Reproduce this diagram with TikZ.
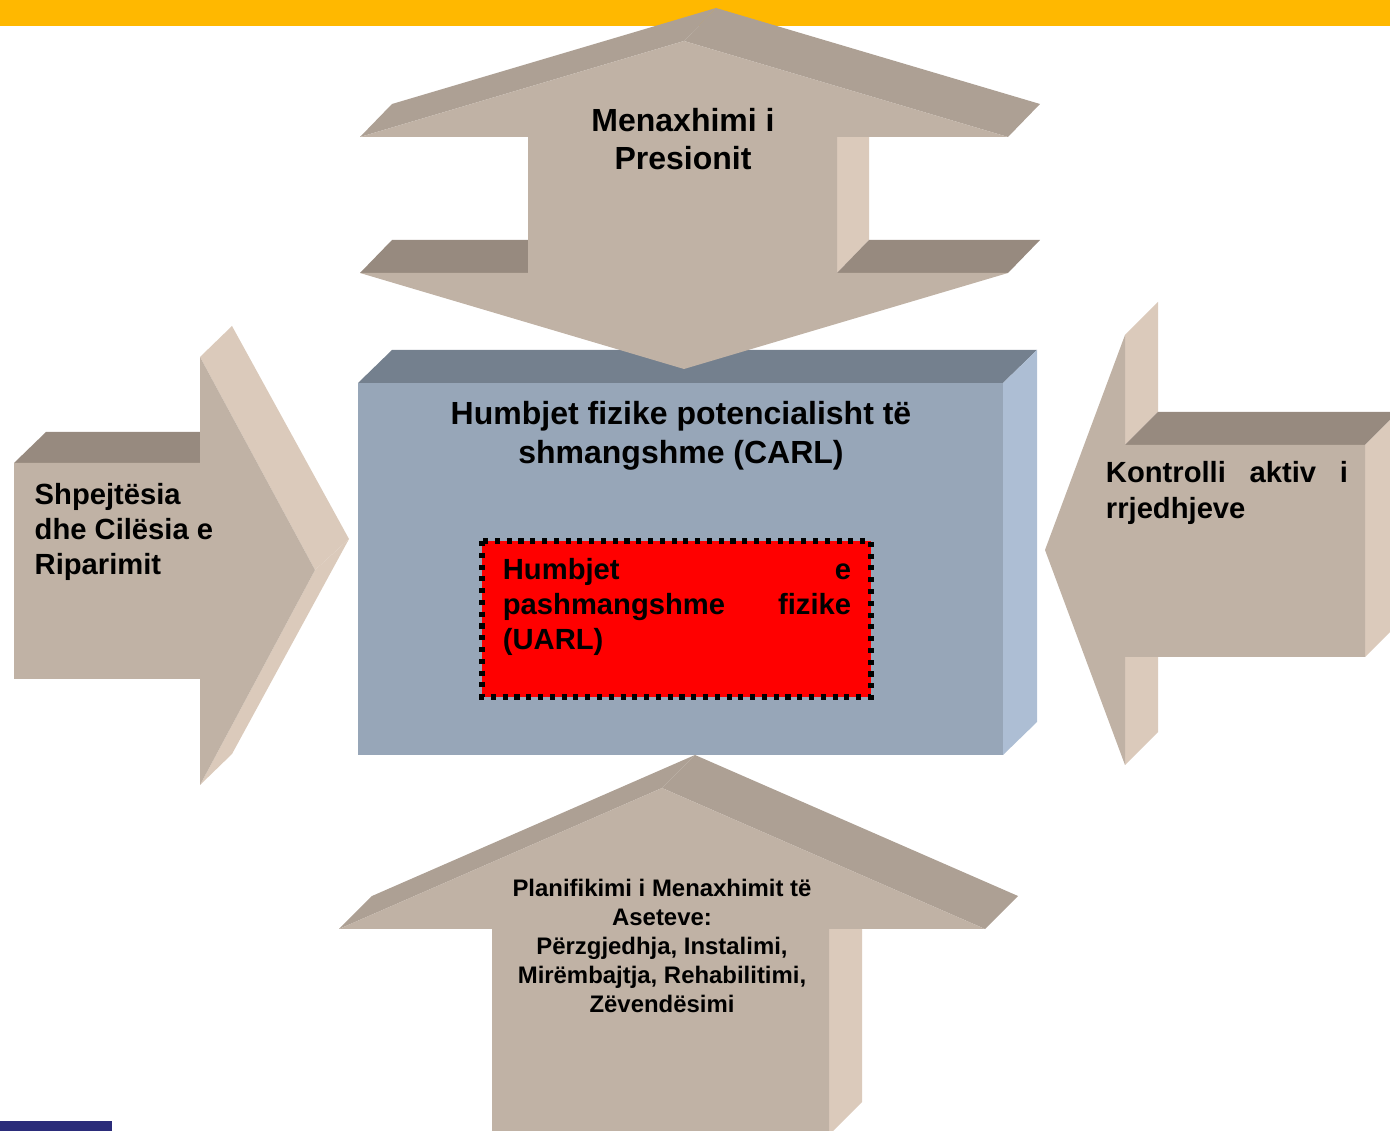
\documentclass[tikz,border=0pt]{standalone}
\usepackage{fontspec}
\setmainfont{Liberation Sans}
\usetikzlibrary{calc}

\definecolor{barorange}{RGB}{255,184,0}
\definecolor{navybar}{RGB}{43,44,122}
\definecolor{armfront}{RGB}{192,178,165}
\definecolor{armslope}{RGB}{173,160,148}
\definecolor{armledge}{RGB}{151,138,127}
\definecolor{armside}{RGB}{219,202,187}
\definecolor{boxtop}{RGB}{116,128,142}
\definecolor{boxside}{RGB}{173,190,212}
\definecolor{boxfront}{RGB}{151,166,184}

\begin{document}
\begin{tikzpicture}[x=0.01cm,y=-0.01cm,
        frontface/.style={fill=armfront},
        slopeface/.style={fill=armslope},
        ledgeface/.style={fill=armledge},
        sideface/.style={fill=armside},
        bigtxt/.style={inner sep=0pt, font=\bfseries\fontsize{9.1}{11}\selectfont},
        midtxt/.style={inner sep=0pt, font=\bfseries\fontsize{8.3}{10}\selectfont},
        smalltxt/.style={inner sep=0pt, font=\bfseries\fontsize{6.8}{8.25}\selectfont}]
    \useasboundingbox (0,0) rectangle (1390,1131);
    \clip (0,0) rectangle (1390,1131);
    \fill[barorange] (0,0) rectangle (1390,26);
    \fill[navybar] (0,1121) rectangle (112,1131);

    \coordinate (c1) at (358,383); \coordinate (c2) at (1003,383);
    \coordinate (c3) at (1003,755); \coordinate (c4) at (358,755);
    \fill[boxtop] (c1) -- (c2) -- ($(c2)+(34,-33)$) -- ($(c1)+(34,-33)$) -- cycle;
    \fill[boxside] (c2) -- (c3) -- ($(c3)+(34,-33)$) -- ($(c2)+(34,-33)$) -- cycle;
    \fill[boxfront] (c1) rectangle (c3);
    \draw[fill=red, line width=1.45pt, dash pattern=on 1.45pt off 1.9pt] (482,541) rectangle (871,697);

    \coordinate (t1) at (684,41);   \coordinate (t2) at (360,137);
    \coordinate (t3) at (528,137);  \coordinate (t4) at (528,273);
    \coordinate (t5) at (360,273);  \coordinate (t6) at (684,369);
    \coordinate (t7) at (1008,273); \coordinate (t8) at (837,273);
    \coordinate (t9) at (837,137);  \coordinate (t10) at (1008,137);
    \fill[slopeface] (t2) -- (t1) -- ($(t1)+(32,-33)$) -- ($(t2)+(32,-33)$) -- cycle;
    \fill[slopeface] (t1) -- (t10) -- ($(t10)+(32,-33)$) -- ($(t1)+(32,-33)$) -- cycle;
    \fill[sideface] (t9) -- (t8) -- ($(t8)+(32,-33)$) -- ($(t9)+(32,-33)$) -- cycle;
    \fill[ledgeface] (t5) -- (t4) -- ($(t4)+(32,-33)$) -- ($(t5)+(32,-33)$) -- cycle;
    \fill[ledgeface] (t8) -- (t7) -- ($(t7)+(32,-33)$) -- ($(t8)+(32,-33)$) -- cycle;
    \fill[frontface] (t1) -- (t2) -- (t3) -- (t4) -- (t5) -- (t6) -- (t7) -- (t8) -- (t9) -- (t10) -- cycle;

    \coordinate (l1) at (14,463);  \coordinate (l2) at (200,463);
    \coordinate (l3) at (200,357); \coordinate (l4) at (315,570);
    \coordinate (l5) at (200,785); \coordinate (l6) at (200,679);
    \coordinate (l7) at (14,679);
    \fill[ledgeface] (l1) -- (l2) -- ($(l2)+(32,-31)$) -- ($(l1)+(32,-31)$) -- cycle;
    \fill[sideface] (l3) -- (l4) -- ($(l4)+(34,-31)$) -- ($(l3)+(32,-31)$) -- cycle;
    \fill[sideface] (l4) -- (l5) -- ($(l5)+(32,-31)$) -- ($(l4)+(34,-31)$) -- cycle;
    \fill[frontface] (l1) -- (l2) -- (l3) -- (l4) -- (l5) -- (l6) -- (l7) -- cycle;

    \coordinate (r1) at (1045,550); \coordinate (r2) at (1125,335);
    \coordinate (r3) at (1125,445); \coordinate (r4) at (1365,445);
    \coordinate (r5) at (1365,657); \coordinate (r6) at (1125,657);
    \coordinate (r7) at (1125,765);
    \fill[sideface] (r2) -- (r3) -- ($(r3)+(33,-33)$) -- ($(r2)+(33,-33)$) -- cycle;
    \fill[ledgeface] (r3) -- (r4) -- ($(r4)+(33,-33)$) -- ($(r3)+(33,-33)$) -- cycle;
    \fill[sideface] (r4) -- (r5) -- ($(r5)+(33,-33)$) -- ($(r4)+(33,-33)$) -- cycle;
    \fill[sideface] (r6) -- (r7) -- ($(r7)+(33,-33)$) -- ($(r6)+(33,-33)$) -- cycle;
    \fill[frontface] (r1) -- (r2) -- (r3) -- (r4) -- (r5) -- (r6) -- (r7) -- cycle;

    \coordinate (b1) at (662,788); \coordinate (b2) at (985,929);
    \coordinate (b3) at (829,929); \coordinate (b4) at (829,1135);
    \coordinate (b5) at (492,1135); \coordinate (b6) at (492,929);
    \coordinate (b7) at (339,929);
    \fill[slopeface] (b7) -- (b1) -- ($(b1)+(33,-33)$) -- ($(b7)+(33,-33)$) -- cycle;
    \fill[slopeface] (b1) -- (b2) -- ($(b2)+(33,-33)$) -- ($(b1)+(33,-33)$) -- cycle;
    \fill[sideface] (b3) -- (b4) -- ($(b4)+(33,-33)$) -- ($(b3)+(33,-33)$) -- cycle;
    \fill[frontface] (b1) -- (b2) -- (b3) -- (b4) -- (b5) -- (b6) -- (b7) -- cycle;

    \node[bigtxt, align=center] (pressure) at (683,139) {Menaxhimi i\\Presionit};
    \node[bigtxt, align=center] (carl) at (681,436) {Humbjet fizike potencialisht të\\shmangshme (CARL)};
    \node[midtxt, align=left, text width=3.48cm] (uarl) at (677,607) {Humbjet\hfill e\\pashmangshme\hfill fizike\\(UARL)};
    \node[midtxt, align=left, anchor=west] (repair) at (34,532) {Shpejtësia\\dhe Cilësia e\\Riparimit};
    \node[midtxt, align=left, text width=2.42cm] (flowctl) at (1227,493) {Kontrolli\hfill aktiv\hfill i\\rrjedhjeve};
    \node[smalltxt, align=center] (assets) at (662,946) {Planifikimi i Menaxhimit të\\Aseteve:\\Përzgjedhja, Instalimi,\\Mirëmbajtja, Rehabilitimi,\\Zëvendësimi};
\end{tikzpicture}
\end{document}
